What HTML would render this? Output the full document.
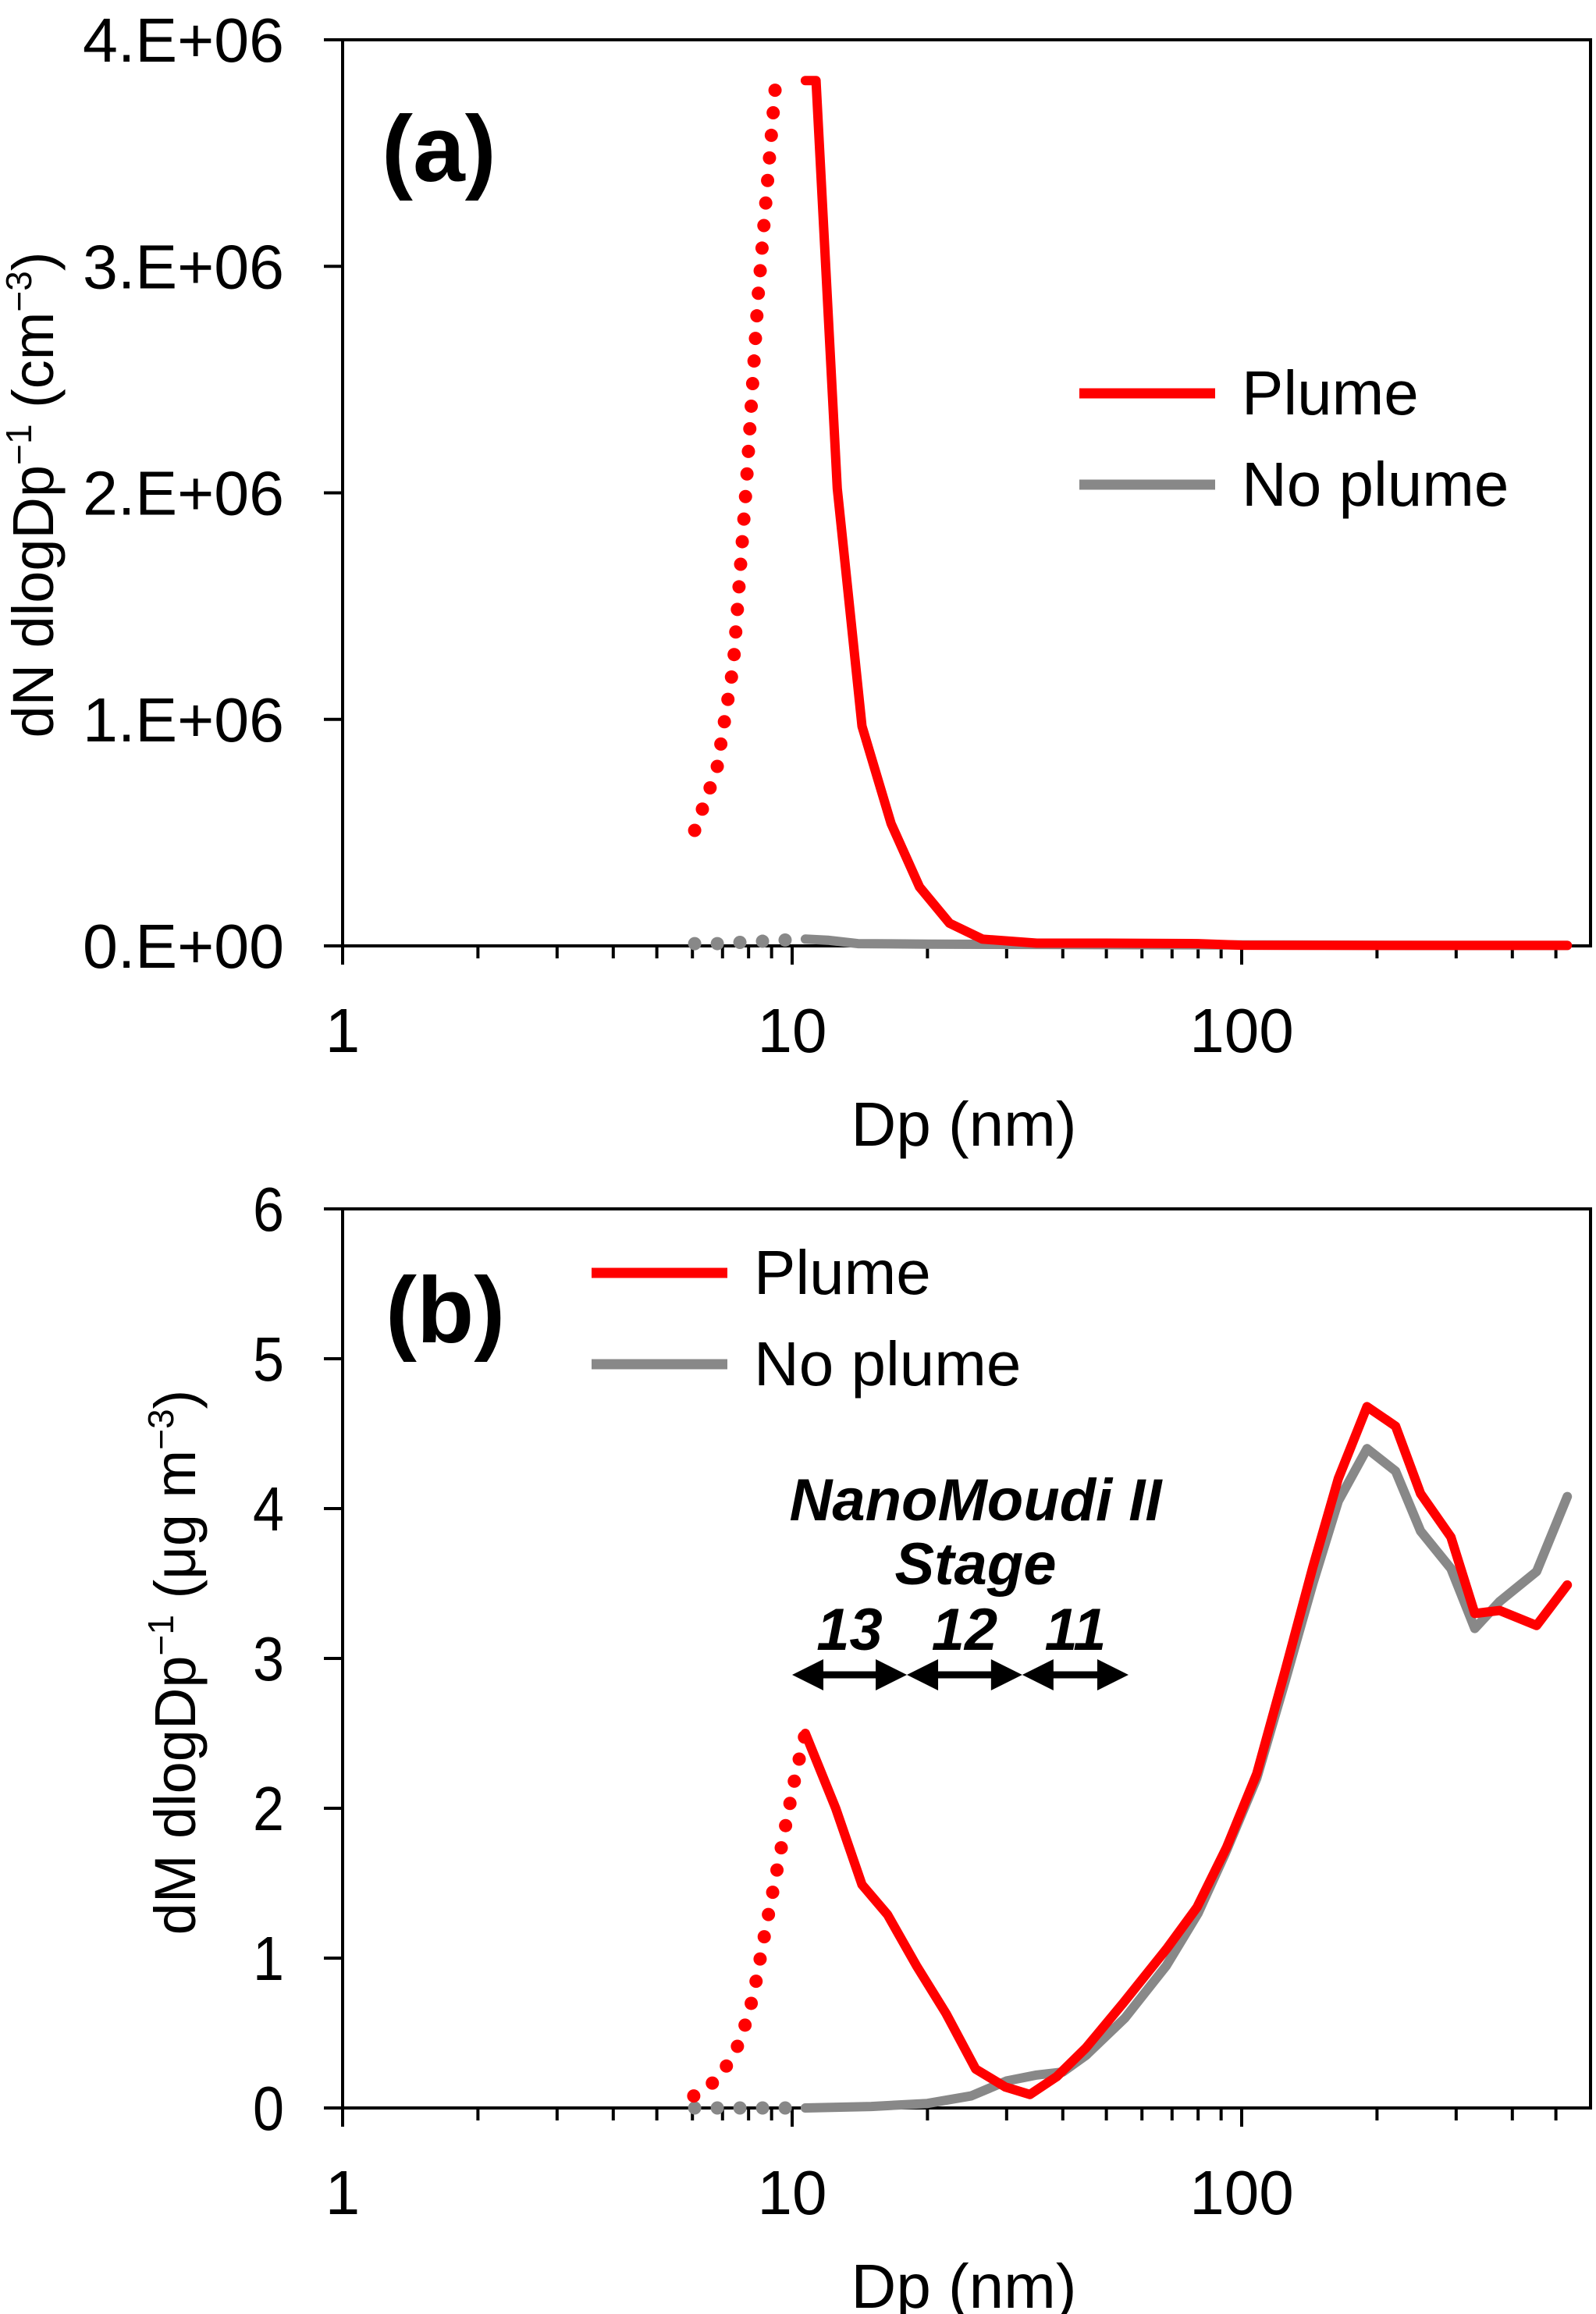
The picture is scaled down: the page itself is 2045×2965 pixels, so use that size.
<!DOCTYPE html>
<html><head><meta charset="utf-8"><style>
html,body{margin:0;padding:0;background:#fff;}
svg{display:block;}
text{font-family:"Liberation Sans",sans-serif;}
</style></head><body>
<svg id="chart" width="2045" height="2965" viewBox="0 0 2045 2965" xmlns="http://www.w3.org/2000/svg">
<g id="pa"></g>
<g id="pb"></g>
</svg>
<script>
// ---------- data: panel a (dN/dlogDp, cm^-3) ----------
const aPlumeDp = [10.7, 11.3, 12.6, 14.3, 16.6, 19.2, 22.4, 26.5, 35, 50, 80, 100, 200, 400, 530];
const aPlumeN  = [3.82e6, 3.82e6, 2.02e6, 0.97e6, 0.54e6, 0.26e6, 0.10e6, 0.03e6, 0.012e6, 0.012e6, 0.01e6, 0.003e6, 0.002e6, 0.002e6, 0.002e6];
const aPlumeDotDp = [6.07, 6.8, 7.4, 7.9, 8.4, 9.2];
const aPlumeDotN  = [0.51e6, 0.78e6, 1.24e6, 2.02e6, 2.87e6, 3.82e6];
const aNoDp = [10.7, 12, 14, 20, 40, 100, 300, 530];
const aNoN  = [0.03e6, 0.025e6, 0.01e6, 0.008e6, 0.006e6, 0.004e6, 0.002e6, 0.002e6];
const aNoDotDp = [6.07, 6.8, 7.6, 8.5, 9.5, 10.5];
const aNoDotN  = [0.01e6, 0.01e6, 0.015e6, 0.02e6, 0.025e6, 0.03e6];
const aYTicks = [0, 1e6, 2e6, 3e6, 4e6];
const aYLabels = ["0.E+00","1.E+06","2.E+06","3.E+06","4.E+06"];
// ---------- data: panel b (dM/dlogDp, ug m^-3) ----------
const bPlumeDp = [10.7,12.5,14.3,16.3,18.9,22.0,25.6,29.8,33.8,38.8,45,54.5,68.4,79.6,92.6,108,125,144,164,190,220,250,292,330,375,453,530];
const bPlumeM  = [2.5,2.0,1.49,1.29,0.95,0.63,0.26,0.14,0.09,0.21,0.40,0.70,1.07,1.34,1.74,2.23,2.92,3.61,4.2,4.68,4.55,4.1,3.81,3.3,3.32,3.22,3.49];
const bPlumeDotDp = [6.04, 6.9, 7.68, 8.2, 8.6, 9.0, 9.45, 10.2, 10.7];
const bPlumeDotM  = [0.08, 0.2, 0.45, 0.75, 1.09, 1.4, 1.73, 2.24, 2.5];
const bNoDp = [10.7,15,20,25,30,35,40,45,55,68,80,92,108,125,144,164,190,220,250,292,330,375,453,530];
const bNoM  = [0.0,0.01,0.03,0.08,0.18,0.22,0.24,0.35,0.6,0.95,1.3,1.7,2.2,2.85,3.5,4.05,4.4,4.25,3.85,3.6,3.2,3.38,3.58,4.08];
const bNoDotDp = [6.07, 6.8, 7.6, 8.5, 9.5, 10.5];
const bNoDotM  = [0, 0, 0, 0, 0, 0];
const bYTicks = [0,1,2,3,4,5,6];
const bYLabels = ["0","1","2","3","4","5","6"];
const xTickLabels = ["1","10","100"];
const stageBounds = [10, 18, 32.5, 56];
const stageNames = ["13","12","11"];

const NS = "http://www.w3.org/2000/svg";
function mk(parent, tag, attrs){ const e=document.createElementNS(NS,tag); for(const k in attrs) e.setAttribute(k,attrs[k]); parent.appendChild(e); return e; }

function panel(g, o){
  const L=439, R=2038, T=o.top, B=o.bottom, dec=576;
  const xs = d => L + Math.log10(d)*dec;
  const ys = v => B - (v/o.ymax)*(B-T);
  const box = mk(g,'rect',{x:L,y:T,width:R-L,height:B-T,fill:'none',stroke:'#000','stroke-width':4});
  
  
  o.yTicks.forEach((v,i)=>{
    const t = mk(g,'line',{x1:L-24,x2:L,y1:ys(v),y2:ys(v),stroke:'#000','stroke-width':4});
    
    
    const lb = mk(g,'text',{x:364,y:ys(v)+28,'text-anchor':'end','font-size':80,fill:'#000',textLength:o.labW,lengthAdjust:'spacingAndGlyphs'});
    lb.textContent = o.yLabels[i];
    
    
  });
  for(let d=1; d<=7; d++){ for(let m=1;m<=9;m++){
    const v=m*Math.pow(10,d-1); const x=xs(v); if(x>R+1) continue;
    const t=mk(g,'line',{x1:x,x2:x,y1:B,y2:B+(m===1?24:16),stroke:'#000','stroke-width':4});
    
    
  }}
  xTickLabels.forEach((s,i)=>{
    const lb=mk(g,'text',{x:xs(Math.pow(10,i)),y:B+136,'text-anchor':'middle','font-size':80,fill:'#000'});
    lb.textContent=s;
    
    
  });
  const xt=mk(g,'text',{x:1235,y:B+256,'text-anchor':'middle','font-size':80,fill:'#000'});
  xt.textContent='Dp (nm)';
  
  
  const yt=mk(g,'text',{x:0,y:0,'text-anchor':'middle','font-size':74,fill:'#000',transform:`translate(${o.ytX},${o.ytY}) rotate(-90)`});
  yt.innerHTML=o.ytHTML;
  
  
  const pts=(dx,dy)=>dx.map((d,i)=>xs(d).toFixed(1)+','+ys(dy[i]).toFixed(1)).join(' ');
  function series(dx,dy,color,dotted,name){
    const p=mk(g,'polyline',{points:pts(dx,dy),fill:'none',stroke:color,'stroke-width':dotted?17:12,'stroke-linejoin':'round','stroke-linecap':'round'});
    if(dotted){p.setAttribute('stroke-dasharray','0 29');}
    
    
  }
  series(o.noDotDp,o.noDotV,'#888',true,'no-plume-extrapolated');
  series(o.noDp,o.noV,'#888',false,'no-plume-line');
  series(o.plDotDp,o.plDotV,'#f00',true,'plume-extrapolated');
  series(o.plDp,o.plV,'#f00',false,'plume-line');
  [['Plume','#f00',o.lgY],['No plume','#888',o.lgY+117]].forEach(([s,c,y])=>{
    const ln=mk(g,'line',{x1:o.lgX,x2:o.lgX+174,y1:y,y2:y,stroke:c,'stroke-width':13});
    
    
    const t=mk(g,'text',{x:o.lgX+208,y:y+27,'font-size':80,fill:'#000'});
    t.textContent=s;
    
    
  });
  const pl=mk(g,'text',{x:o.plX,y:o.plY,'font-size':120,'font-weight':'bold',fill:'#000'});
  pl.textContent=o.panelLabel;
  
  
  return {xs,ys};
}

panel(document.getElementById('pa'),{top:51,bottom:1212,ymax:4e6,yTicks:aYTicks,yLabels:aYLabels,labW:258,
  ytX:68,ytY:634,ytHTML:'dN dlogDp<tspan dy="-28" font-size="46">−1</tspan><tspan dy="28"> (cm</tspan><tspan dy="-28" font-size="46">−3</tspan><tspan dy="28">)</tspan>',
  plDp:aPlumeDp,plV:aPlumeN,plDotDp:aPlumeDotDp,plDotV:aPlumeDotN,noDp:aNoDp,noV:aNoN,noDotDp:aNoDotDp,noDotV:aNoDotN,
  lgX:1383,lgY:504,plX:489,plY:232,panelLabel:'(a)'});

const b = panel(document.getElementById('pb'),{top:1549,bottom:2701,ymax:6,yTicks:bYTicks,yLabels:bYLabels,labW:40,
  ytX:250,ytY:2130,ytHTML:'dM dlogDp<tspan dy="-28" font-size="46">−1</tspan><tspan dy="28"> (μg m</tspan><tspan dy="-28" font-size="46">−3</tspan><tspan dy="28">)</tspan>',
  plDp:bPlumeDp,plV:bPlumeM,plDotDp:bPlumeDotDp,plDotV:bPlumeDotM,noDp:bNoDp,noV:bNoM,noDotDp:bNoDotDp,noDotV:bNoDotM,
  lgX:758,lgY:1631,plX:494,plY:1720,panelLabel:'(b)'});

const pbg=document.getElementById('pb');
const ann=mk(pbg,'g',{});


[['NanoMoudi II',1250,1948],['Stage',1250,2030]].forEach(([s,x,y])=>{
  const t=mk(ann,'text',{x:x,y:y,'text-anchor':'middle','font-size':76,'font-weight':'bold','font-style':'italic',fill:'#000'});
  t.textContent=s;
  
  
});
const ay=2146;
stageNames.forEach((s,i)=>{
  const x1=b.xs(stageBounds[i]), x2=b.xs(stageBounds[i+1]);
  const t=mk(ann,'text',{x:(x1+x2)/2,y:2114,'text-anchor':'middle','font-size':76,'font-weight':'bold','font-style':'italic',fill:'#000'});
  t.textContent=s;
  
  
  const ln=mk(ann,'line',{x1:x1+30,x2:x2-30,y1:ay,y2:ay,stroke:'#000','stroke-width':9});
  
  
  const h1=mk(ann,'polygon',{points:`${x1},${ay} ${x1+40},${ay-20} ${x1+40},${ay+20}`,fill:'#000'});
  
  
  const h2=mk(ann,'polygon',{points:`${x2},${ay} ${x2-40},${ay-20} ${x2-40},${ay+20}`,fill:'#000'});
  
  
});
</script>
</body></html>
